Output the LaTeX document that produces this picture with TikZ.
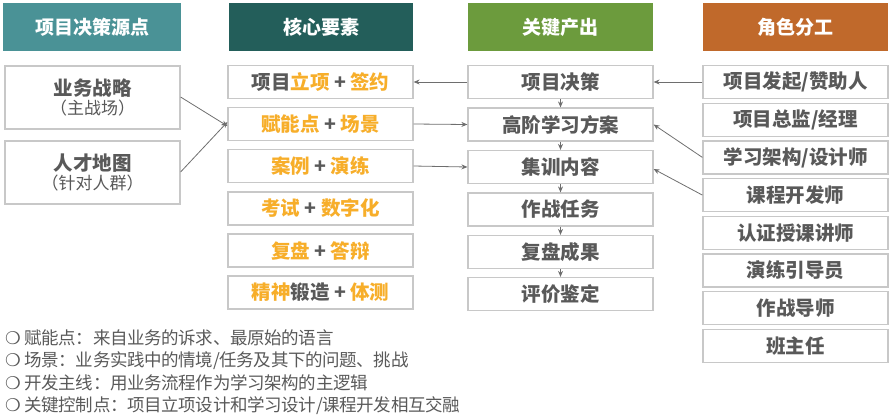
\documentclass[tikz,border=0pt]{standalone}
\usepackage{fontspec}
\setmainfont{Noto Sans CJK SC}
\newfontfamily\sym{DejaVu Sans}
\usetikzlibrary{arrows.meta}
\definecolor{hA}{HTML}{4A9296}
\definecolor{hB}{HTML}{235E5A}
\definecolor{hC}{HTML}{6C9B3D}
\definecolor{hD}{HTML}{C0692B}
\definecolor{org}{HTML}{F7AE2A}
\definecolor{txt}{HTML}{595959}
\definecolor{bd}{HTML}{C8C8C8}
\definecolor{ln}{HTML}{6E6E6E}
\newcommand{\og}[1]{\textcolor{org}{#1}}
\begin{document}
\begin{tikzpicture}[x=1pt,y=-1pt,
  hdr/.style={minimum width=178pt,minimum height=48pt,inner sep=0pt,text=white,font=\fontsize{19}{22}\selectfont\bfseries},
  bx/.style={draw=bd,line width=1.2pt,fill=white,minimum width=185pt,minimum height=33pt,inner sep=0pt,text=txt,font=\fontsize{19.5}{22}\selectfont\bfseries},
  bigbx/.style={bx,minimum height=63pt,minimum width=175pt,align=center},
  arr/.style={draw=ln,line width=0.8pt,-{Stealth[length=6pt,width=5pt]}},
  note/.style={anchor=west,inner sep=0pt,text=txt,font=\fontsize{17.5}{20}\selectfont\addfontfeature{LetterSpace=-2}}]
\useasboundingbox (0,0) rectangle (896,418);
\node[hdr,fill=hA,minimum width=178pt] (h1) at (92,27) {项目决策源点};
\node[hdr,fill=hB,minimum width=184pt] (h2) at (321,27) {核心要素};
\node[hdr,fill=hC,minimum width=185pt] (h3) at (560.5,27) {关键产出};
\node[hdr,fill=hD,minimum width=185pt] (h4) at (795.5,27) {角色分工};
% col1
\node[bigbx] (a1) at (92.5,97.5) {业务战略\\[-3pt]{\mdseries\fontsize{17}{19}\selectfont（主战场）}};
\node[bigbx] (a2) at (92.5,172.5) {人才地图\\[-3pt]{\mdseries\fontsize{17}{19}\selectfont（针对人群）}};
% col2
\node[bx] (b1) at (320.5,82) {项目\og{立项} + \og{签约}};
\node[bx] (b2) at (320.5,124) {\og{赋能点} + \og{场景}};
\node[bx] (b3) at (320.5,166) {\og{案例} + \og{演练}};
\node[bx] (b4) at (320.5,208.5) {\og{考试} + \og{数字化}};
\node[bx] (b5) at (320.5,250.5) {\og{复盘} + \og{答辩}};
\node[bx] (b6) at (320.5,292.5) {\og{精神}锻造 + \og{体测}};
% col3
\node[bx] (c1) at (560.5,82) {项目决策};
\node[bx] (c2) at (560.5,124.5) {高阶学习方案};
\node[bx] (c3) at (560.5,167) {集训内容};
\node[bx] (c4) at (560.5,209.5) {作战任务};
\node[bx] (c5) at (560.5,252) {复盘成果};
\node[bx] (c6) at (560.5,294) {评价鉴定};
% col4
\foreach \t [count=\i] in {项目发起/赞助人,项目总监/经理,学习架构/设计师,课程开发师,认证授课讲师,演练引导员,作战导师,班主任}
  \node[bx] (d\i) at (795.5,{82+37.7*(\i-1)}) {\t};
% arrows
\draw[arr] (a1.east|-0,97) -- ([yshift=-2pt]b2.west);
\draw[arr] (a2.east|-0,172) -- ([yshift=2pt]b2.west);
\draw[arr] (c1.west) -- (b1.east);
\draw[arr] (b2.east) -- (c2.west);
\draw[arr] (b3.east) -- (c3.west);
\draw[arr] (c1) -- (c2);
\draw[arr] (c2) -- (c3);
\draw[arr] (c3) -- (c4);
\draw[arr] (c4) -- (c5);
\draw[arr] (c5) -- (c6);
\draw[arr] (d1.west) -- (c1.east);
\draw[arr] (d3.west) -- (c2.east);
\draw[arr] (d4.west) -- ([yshift=-2pt]c3.east);
% notes
\node[note] (n1) at (5,338) {{\sym ❍} 赋能点：来自业务的诉求、最原始的语言};
\node[note] (n2) at (5,360.5) {{\sym ❍} 场景：业务实践中的情境/任务及其下的问题、挑战};
\node[note] (n3) at (5,383) {{\sym ❍} 开发主线：用业务流程作为学习架构的主逻辑};
\node[note] (n4) at (5,405.5) {{\sym ❍} 关键控制点：项目立项设计和学习设计/课程开发相互交融};
\end{tikzpicture}
\end{document}
